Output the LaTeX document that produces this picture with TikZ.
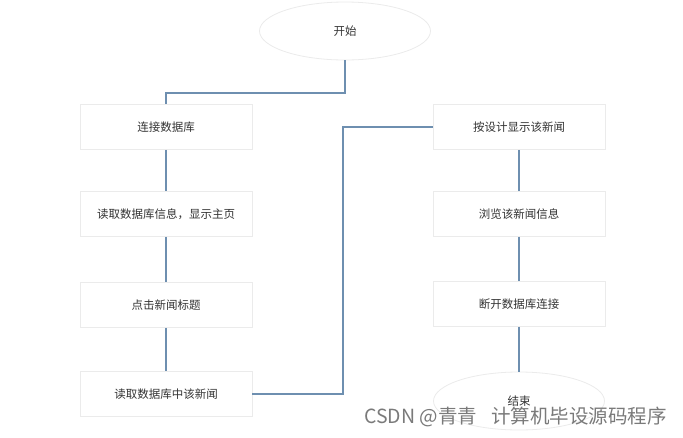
\documentclass[tikz,border=0pt]{standalone}
\usepackage{fontspec}
\setmainfont{Noto Sans CJK SC}
\newfontfamily\wmfont{Noto Sans CJK SC}
\usetikzlibrary{shapes.geometric}
\definecolor{boxline}{HTML}{EBEBEB}
\definecolor{conn}{HTML}{6E8FB0}
\definecolor{txt}{HTML}{333333}
\tikzset{
  stepbox/.style={draw=boxline, line width=0.8pt, fill=white, minimum width=172pt, minimum height=45pt, inner sep=0pt, font=\fontsize{11.5}{13}\selectfont, text=txt},
  terminal/.style={ellipse, draw=boxline, line width=0.8pt, fill=white, minimum width=171pt, minimum height=58pt, inner sep=0pt, font=\fontsize{11.5}{13}\selectfont, text=txt},
  link/.style={draw=conn, line width=1.2pt}
}
\begin{document}
\begin{tikzpicture}[x=1pt,y=-1pt]
\useasboundingbox (0,0) rectangle (683,437);
\node[terminal] (start) at (345,31) {开始};
\node[stepbox] (l1) at (166,127) {连接数据库};
\node[stepbox] (l2) at (166,214) {读取数据库信息，显示主页};
\node[stepbox] (l3) at (166,305) {点击新闻标题};
\node[stepbox] (l4) at (166,394) {读取数据库中该新闻};
\node[stepbox] (r1) at (519,127) {按设计显示该新闻};
\node[stepbox] (r2) at (519,214) {浏览该新闻信息};
\node[stepbox] (r3) at (519,304) {断开数据库连接};
\coordinate (m1) at (345,93);
\coordinate (m2) at (343,127);
\draw[link] (start.south) -- (m1) -| (l1.north);
\draw[link] (l1) -- (l2);
\draw[link] (l2) -- (l3);
\draw[link] (l3) -- (l4);
\draw[link] (l4.east) -| (m2) -- (r1.west);
\draw[link] (r1) -- (r2);
\draw[link] (r2) -- (r3);
\node[terminal] (end) at (519,401) {结束};
\draw[link] (r3.south) -- (end.north);
\node[font=\wmfont\fontsize{19.5}{22}\selectfont, text=black!52, anchor=west, inner sep=0pt] (wm) at (364,417) {CSDN @青青\hspace{14pt}计算机毕设源码程序};
\end{tikzpicture}
\end{document}
